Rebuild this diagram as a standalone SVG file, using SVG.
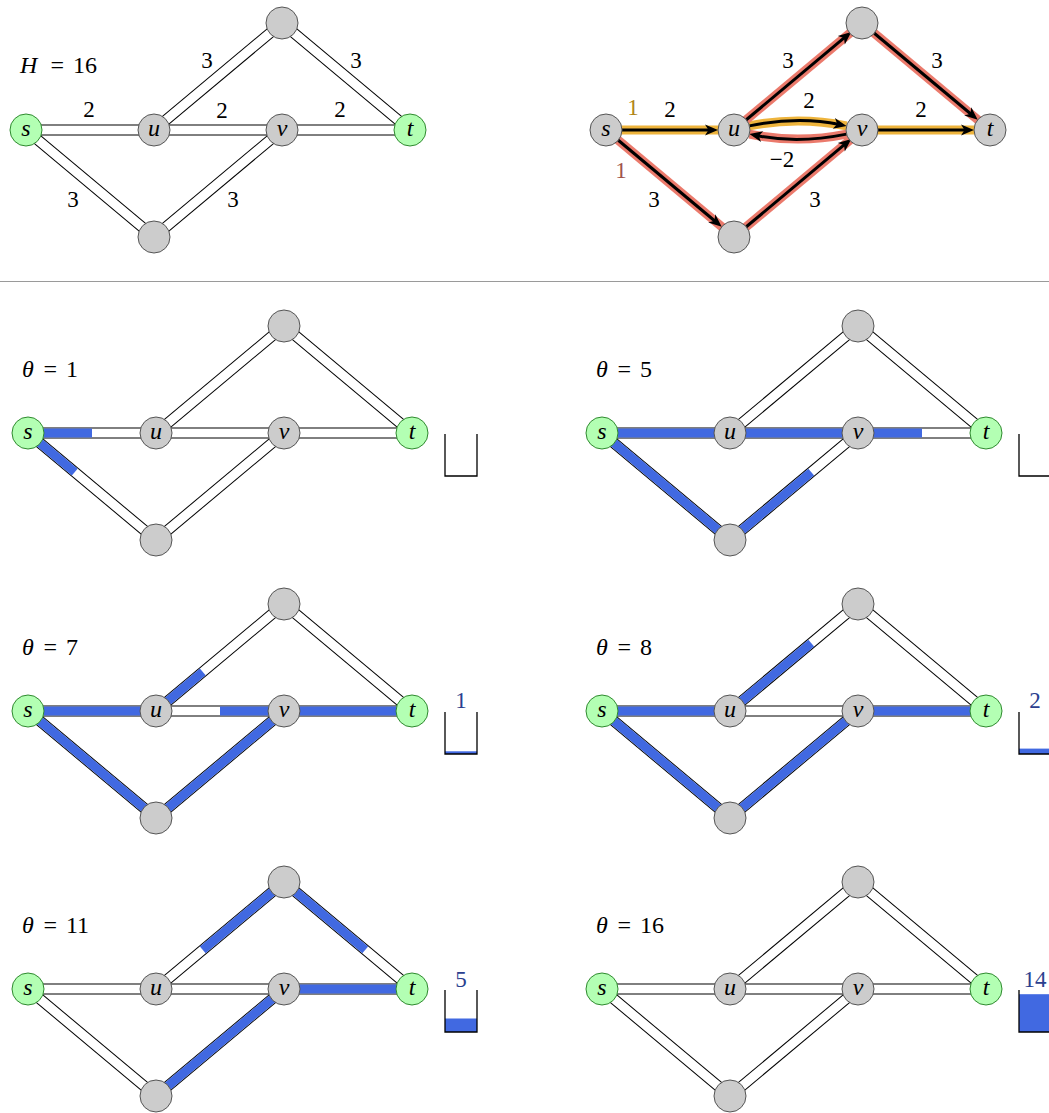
<svg xmlns="http://www.w3.org/2000/svg" xmlns:xlink="http://www.w3.org/1999/xlink" width="1049" height="1113" viewBox="0 0 1049 1113" font-family="Liberation Serif" font-size="23">
<style>
.nd{fill:#cccccc;stroke:#555555;stroke-width:1}
.gr{fill:#b3ffb3;stroke:#2f8a2f;stroke-width:1}
.nl{font-style:italic;text-anchor:middle;fill:#000}
.num{text-anchor:middle;fill:#000}
.ttl{fill:#000}
.ttl .i{font-style:italic}
.po{stroke:#000;stroke-width:11;fill:none}
.pi{stroke:#fff;stroke-width:9;fill:none}
.bf{stroke:#4169e1;stroke-width:9;fill:none}
.bk{fill:none;stroke:#000;stroke-width:1.3}
.bw{fill:#4169e1}
.bl{text-anchor:middle;fill:#2b3f8f}
.hy{stroke:#eeb43c;stroke-width:9;fill:none}
.hr{stroke:#eb7a6c;stroke-width:9;fill:none}
.ar{stroke:#000;stroke-width:3;fill:none;marker-end:url(#ah)}
</style>
<defs>
<marker id="ah" markerUnits="userSpaceOnUse" markerWidth="14" markerHeight="12" refX="6" refY="0" orient="auto" overflow="visible">
<path d="M0,-5.5 L13,0 L0,5.5 L3.5,0 z" fill="#000"/>
</marker>
<g id="net">
<g>
<line class="po" x1="0" y1="0" x2="128" y2="0"/>
<line class="po" x1="128" y1="0" x2="256" y2="0"/>
<line class="po" x1="256" y1="0" x2="384" y2="0"/>
<line class="po" x1="128" y1="0" x2="256" y2="-107"/>
<line class="po" x1="256" y1="-107" x2="384" y2="0"/>
<line class="po" x1="0" y1="0" x2="128" y2="107"/>
<line class="po" x1="128" y1="107" x2="256" y2="0"/>
</g>
<g>
<line class="pi" x1="0" y1="0" x2="128" y2="0"/>
<line class="pi" x1="128" y1="0" x2="256" y2="0"/>
<line class="pi" x1="256" y1="0" x2="384" y2="0"/>
<line class="pi" x1="128" y1="0" x2="256" y2="-107"/>
<line class="pi" x1="256" y1="-107" x2="384" y2="0"/>
<line class="pi" x1="0" y1="0" x2="128" y2="107"/>
<line class="pi" x1="128" y1="107" x2="256" y2="0"/>
</g>
</g>
</defs>
<rect width="1049" height="1113" fill="#fff"/>

<!-- Top-left: pipe network -->
<g id="g0" transform="translate(26,130)">
<g id="g0-connectors"><use xlink:href="#net"/></g>
<text class="ttl" y="-57" font-size="24"><tspan class="i" x="-6">H</tspan><tspan x="24.5">=</tspan><tspan x="47">16</tspan></text>
<g id="g0-labels">
<text class="num" x="63" y="-13">2</text>
<text class="num" x="196" y="-12">2</text>
<text class="num" x="314" y="-13">2</text>
<text class="num" x="181" y="-62">3</text>
<text class="num" x="330" y="-62">3</text>
<text class="num" x="47" y="77">3</text>
<text class="num" x="207" y="77">3</text>
</g>
<g id="g0-s"><circle class="gr" cx="0" cy="0" r="16"/><text class="nl" x="0" y="5.5" font-size="24">s</text></g>
<g id="g0-u"><circle class="nd" cx="128" cy="0" r="16"/><text class="nl" x="128" y="5.5" font-size="24">u</text></g>
<g id="g0-v"><circle class="nd" cx="256" cy="0" r="16"/><text class="nl" x="256" y="5.5" font-size="24">v</text></g>
<g id="g0-t"><circle class="gr" cx="384" cy="0" r="16"/><text class="nl" x="384" y="5.5" font-size="24">t</text></g>
<g id="g0-top"><circle class="nd" cx="256" cy="-107" r="16"/></g>
<g id="g0-bot"><circle class="nd" cx="128" cy="107" r="16"/></g>
</g>

<!-- Top-right: residual / directed graph -->
<g id="g1" transform="translate(606,130)">
<g id="g1-connectors">
<line class="hy" x1="0" y1="0" x2="128" y2="0"/>
<path class="hy" d="M143.45,-4.14 Q192,-14 240.55,-4.14"/>
<line class="hy" x1="256" y1="0" x2="384" y2="0"/>
<line class="hr" x1="0" y1="0" x2="128" y2="107"/>
<line class="hr" x1="128" y1="107" x2="256" y2="0"/>
<line class="hr" x1="128" y1="0" x2="256" y2="-107"/>
<line class="hr" x1="256" y1="-107" x2="384" y2="0"/>
<path class="hr" d="M240.55,4.14 Q192,14 143.45,4.14"/>
<line class="ar" x1="16" y1="0" x2="105" y2="0"/>
<path class="ar" d="M143.45,-4.14 Q192,-14 233.7,-5.5"/>
<path class="ar" d="M240.55,4.14 Q192,14 150.3,5.5"/>
<line class="ar" x1="272" y1="0" x2="361" y2="0"/>
<line class="ar" x1="12.28" y1="10.26" x2="110.35" y2="92.25"/>
<line class="ar" x1="140.28" y1="96.74" x2="239.89" y2="13.47"/>
<line class="ar" x1="140.28" y1="-10.26" x2="239.89" y2="-93.53"/>
<line class="ar" x1="268.28" y1="-96.74" x2="366.35" y2="-14.75"/>
</g>
<g id="g1-labels">
<text class="num" x="27" y="-15" style="fill:#b08516">1</text>
<text class="num" x="64" y="-13">2</text>
<text class="num" x="15" y="48" style="fill:#a0544c">1</text>
<text class="num" x="48" y="77">3</text>
<text class="num" x="182" y="-62">3</text>
<text class="num" x="203" y="-22">2</text>
<text class="num" x="176" y="37">−2</text>
<text class="num" x="315" y="-13">2</text>
<text class="num" x="331" y="-62">3</text>
<text class="num" x="209" y="77">3</text>
</g>
<g id="g1-s"><circle class="nd" cx="0" cy="0" r="16"/><text class="nl" x="0" y="5.5" font-size="24">s</text></g>
<g id="g1-u"><circle class="nd" cx="128" cy="0" r="16"/><text class="nl" x="128" y="5.5" font-size="24">u</text></g>
<g id="g1-v"><circle class="nd" cx="256" cy="0" r="16"/><text class="nl" x="256" y="5.5" font-size="24">v</text></g>
<g id="g1-t"><circle class="nd" cx="384" cy="0" r="16"/><text class="nl" x="384" y="5.5" font-size="24">t</text></g>
<g id="g1-top"><circle class="nd" cx="256" cy="-107" r="16"/></g>
<g id="g1-bot"><circle class="nd" cx="128" cy="107" r="16"/></g>
</g>

<line x1="0" y1="281.5" x2="1049" y2="281.5" stroke="#9a9a9a" stroke-width="1"/>

<!-- theta = 1 -->
<g id="p1" transform="translate(28,433)">
<g id="p1-connectors"><use xlink:href="#net"/>
<line class="bf" x1="0" y1="0" x2="64" y2="0"/>
<line class="bf" x1="0" y1="0" x2="46.75" y2="39.08"/>
</g>
<text class="ttl" y="-56" font-size="24"><tspan class="i" x="-6">θ</tspan><tspan x="15.5">=</tspan><tspan x="38">1</tspan></text>
<g id="p1-s"><circle class="gr" cx="0" cy="0" r="16"/><text class="nl" x="0" y="5.5" font-size="24">s</text></g>
<g id="p1-u"><circle class="nd" cx="128" cy="0" r="16"/><text class="nl" x="128" y="5.5" font-size="24">u</text></g>
<g id="p1-v"><circle class="nd" cx="256" cy="0" r="16"/><text class="nl" x="256" y="5.5" font-size="24">v</text></g>
<g id="p1-t"><circle class="gr" cx="384" cy="0" r="16"/><text class="nl" x="384" y="5.5" font-size="24">t</text></g>
<g id="p1-top"><circle class="nd" cx="256" cy="-107" r="16"/></g>
<g id="p1-bot"><circle class="nd" cx="128" cy="107" r="16"/></g>
<g id="p1-bucket"><path class="bk" d="M417,1 V43 H449 V1"/></g>
</g>

<!-- theta = 5 -->
<g id="p2" transform="translate(602,433)">
<g id="p2-connectors"><use xlink:href="#net"/>
<line class="bf" x1="0" y1="0" x2="128" y2="0"/>
<line class="bf" x1="128" y1="0" x2="256" y2="0"/>
<line class="bf" x1="256" y1="0" x2="320" y2="0"/>
<line class="bf" x1="0" y1="0" x2="128" y2="107"/>
<line class="bf" x1="128" y1="107" x2="209.23" y2="39.1"/>
</g>
<text class="ttl" y="-56" font-size="24"><tspan class="i" x="-6">θ</tspan><tspan x="15.5">=</tspan><tspan x="38">5</tspan></text>
<g id="p2-s"><circle class="gr" cx="0" cy="0" r="16"/><text class="nl" x="0" y="5.5" font-size="24">s</text></g>
<g id="p2-u"><circle class="nd" cx="128" cy="0" r="16"/><text class="nl" x="128" y="5.5" font-size="24">u</text></g>
<g id="p2-v"><circle class="nd" cx="256" cy="0" r="16"/><text class="nl" x="256" y="5.5" font-size="24">v</text></g>
<g id="p2-t"><circle class="gr" cx="384" cy="0" r="16"/><text class="nl" x="384" y="5.5" font-size="24">t</text></g>
<g id="p2-top"><circle class="nd" cx="256" cy="-107" r="16"/></g>
<g id="p2-bot"><circle class="nd" cx="128" cy="107" r="16"/></g>
<g id="p2-bucket"><path class="bk" d="M417,1 V43 H449 V1"/></g>
</g>

<!-- theta = 7 -->
<g id="p3" transform="translate(28,711)">
<g id="p3-connectors"><use xlink:href="#net"/>
<line class="bf" x1="0" y1="0" x2="128" y2="0"/>
<line class="bf" x1="128" y1="0" x2="174.75" y2="-39.08"/>
<line class="bf" x1="192" y1="0" x2="256" y2="0"/>
<line class="bf" x1="256" y1="0" x2="384" y2="0"/>
<line class="bf" x1="0" y1="0" x2="128" y2="107"/>
<line class="bf" x1="128" y1="107" x2="256" y2="0"/>
</g>
<text class="ttl" y="-56" font-size="24"><tspan class="i" x="-6">θ</tspan><tspan x="15.5">=</tspan><tspan x="38">7</tspan></text>
<g id="p3-s"><circle class="gr" cx="0" cy="0" r="16"/><text class="nl" x="0" y="5.5" font-size="24">s</text></g>
<g id="p3-u"><circle class="nd" cx="128" cy="0" r="16"/><text class="nl" x="128" y="5.5" font-size="24">u</text></g>
<g id="p3-v"><circle class="nd" cx="256" cy="0" r="16"/><text class="nl" x="256" y="5.5" font-size="24">v</text></g>
<g id="p3-t"><circle class="gr" cx="384" cy="0" r="16"/><text class="nl" x="384" y="5.5" font-size="24">t</text></g>
<g id="p3-top"><circle class="nd" cx="256" cy="-107" r="16"/></g>
<g id="p3-bot"><circle class="nd" cx="128" cy="107" r="16"/></g>
<g id="p3-bucket"><rect class="bw" x="417" y="40.3" width="32" height="2.7"/><path class="bk" d="M417,1 V43 H449 V1"/><text class="bl" x="433" y="-3">1</text></g>
</g>

<!-- theta = 8 -->
<g id="p4" transform="translate(602,711)">
<g id="p4-connectors"><use xlink:href="#net"/>
<line class="bf" x1="0" y1="0" x2="128" y2="0"/>
<line class="bf" x1="128" y1="0" x2="209.23" y2="-67.9"/>
<line class="bf" x1="256" y1="0" x2="384" y2="0"/>
<line class="bf" x1="0" y1="0" x2="128" y2="107"/>
<line class="bf" x1="128" y1="107" x2="256" y2="0"/>
</g>
<text class="ttl" y="-56" font-size="24"><tspan class="i" x="-6">θ</tspan><tspan x="15.5">=</tspan><tspan x="38">8</tspan></text>
<g id="p4-s"><circle class="gr" cx="0" cy="0" r="16"/><text class="nl" x="0" y="5.5" font-size="24">s</text></g>
<g id="p4-u"><circle class="nd" cx="128" cy="0" r="16"/><text class="nl" x="128" y="5.5" font-size="24">u</text></g>
<g id="p4-v"><circle class="nd" cx="256" cy="0" r="16"/><text class="nl" x="256" y="5.5" font-size="24">v</text></g>
<g id="p4-t"><circle class="gr" cx="384" cy="0" r="16"/><text class="nl" x="384" y="5.5" font-size="24">t</text></g>
<g id="p4-top"><circle class="nd" cx="256" cy="-107" r="16"/></g>
<g id="p4-bot"><circle class="nd" cx="128" cy="107" r="16"/></g>
<g id="p4-bucket"><rect class="bw" x="417" y="37.6" width="32" height="5.4"/><path class="bk" d="M417,1 V43 H449 V1"/><text class="bl" x="433" y="-3">2</text></g>
</g>

<!-- theta = 11 -->
<g id="p5" transform="translate(28,989)">
<g id="p5-connectors"><use xlink:href="#net"/>
<line class="bf" x1="174.75" y1="-39.08" x2="256" y2="-107"/>
<line class="bf" x1="256" y1="-107" x2="337.23" y2="-39.1"/>
<line class="bf" x1="256" y1="0" x2="384" y2="0"/>
<line class="bf" x1="128" y1="107" x2="256" y2="0"/>
</g>
<text class="ttl" y="-56" font-size="24"><tspan class="i" x="-6">θ</tspan><tspan x="15.5">=</tspan><tspan x="38">11</tspan></text>
<g id="p5-s"><circle class="gr" cx="0" cy="0" r="16"/><text class="nl" x="0" y="5.5" font-size="24">s</text></g>
<g id="p5-u"><circle class="nd" cx="128" cy="0" r="16"/><text class="nl" x="128" y="5.5" font-size="24">u</text></g>
<g id="p5-v"><circle class="nd" cx="256" cy="0" r="16"/><text class="nl" x="256" y="5.5" font-size="24">v</text></g>
<g id="p5-t"><circle class="gr" cx="384" cy="0" r="16"/><text class="nl" x="384" y="5.5" font-size="24">t</text></g>
<g id="p5-top"><circle class="nd" cx="256" cy="-107" r="16"/></g>
<g id="p5-bot"><circle class="nd" cx="128" cy="107" r="16"/></g>
<g id="p5-bucket"><rect class="bw" x="417" y="29.5" width="32" height="13.5"/><path class="bk" d="M417,1 V43 H449 V1"/><text class="bl" x="433" y="-2">5</text></g>
</g>

<!-- theta = 16 -->
<g id="p6" transform="translate(602,989)">
<g id="p6-connectors"><use xlink:href="#net"/></g>
<text class="ttl" y="-56" font-size="24"><tspan class="i" x="-6">θ</tspan><tspan x="15.5">=</tspan><tspan x="38">16</tspan></text>
<g id="p6-s"><circle class="gr" cx="0" cy="0" r="16"/><text class="nl" x="0" y="5.5" font-size="24">s</text></g>
<g id="p6-u"><circle class="nd" cx="128" cy="0" r="16"/><text class="nl" x="128" y="5.5" font-size="24">u</text></g>
<g id="p6-v"><circle class="nd" cx="256" cy="0" r="16"/><text class="nl" x="256" y="5.5" font-size="24">v</text></g>
<g id="p6-t"><circle class="gr" cx="384" cy="0" r="16"/><text class="nl" x="384" y="5.5" font-size="24">t</text></g>
<g id="p6-top"><circle class="nd" cx="256" cy="-107" r="16"/></g>
<g id="p6-bot"><circle class="nd" cx="128" cy="107" r="16"/></g>
<g id="p6-bucket"><rect class="bw" x="417" y="5.2" width="32" height="37.8"/><path class="bk" d="M417,1 V43 H449 V1"/><text class="bl" x="433" y="-2">14</text></g>
</g>
</svg>
